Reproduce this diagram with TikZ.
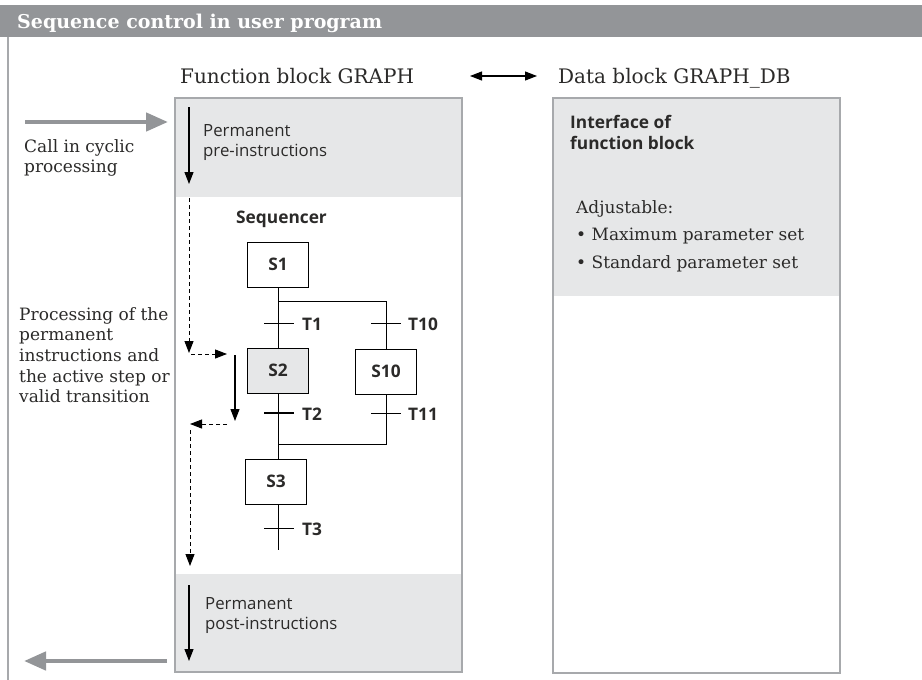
\documentclass[tikz,border=0pt]{standalone}
\usepackage{fontspec}
\setmainfont{DejaVu Serif}
\setsansfont{Open Sans}
\usetikzlibrary{arrows.meta}
\definecolor{titlegray}{HTML}{939598}
\definecolor{fillgray}{HTML}{E6E7E8}
\definecolor{framegray}{HTML}{A7A9AC}
\definecolor{txt}{HTML}{2B2A29}
\tikzset{
  serif/.style={font=\fontsize{17}{20.7}\selectfont, text=txt, inner sep=0pt},
  head/.style={font=\fontsize{20}{24}\selectfont, text=txt, inner sep=0pt},
  sans/.style={font=\sffamily\fontsize{16.8}{20.5}\selectfont, text=txt, inner sep=0pt},
  sansbold/.style={font=\sffamily\bfseries\fontsize{17.3}{21.5}\selectfont, text=txt, inner sep=0pt},
  stepbox/.style={draw=black, line width=1pt, minimum width=61pt, minimum height=45pt, inner sep=0pt, font=\sffamily\bfseries\fontsize{17.3}{20}\selectfont, text=txt},
  trans/.style={line width=1pt},
  flow/.style={line width=1.1pt, -{Triangle[length=12pt,width=9pt]}},
  dflow/.style={line width=1pt, dash pattern=on 4pt off 3pt, -{Triangle[length=12pt,width=9pt]}},
  bigarrow/.style={draw=titlegray, line width=4.5pt, -{Triangle[length=22pt,width=18pt]}},
  tlabel/.style={anchor=west, font=\sffamily\bfseries\fontsize{17.3}{20}\selectfont, text=txt, inner sep=0pt}
}
\begin{document}
\begin{tikzpicture}[x=1pt,y=-1pt]
\useasboundingbox (0,0) rectangle (922,680);
\fill[white] (0,0) rectangle (922,680);
% title bar
\fill[titlegray] (0,5) rectangle (922,37);
\node[anchor=base west, inner sep=0pt, text=white, font=\bfseries\fontsize{19}{22}\selectfont] (title) at (17,28) {Sequence control in user program};
\draw[framegray, line width=1.3pt] (8,37) -- (8,680);
% function block
\fill[fillgray] (175,98) rectangle (462,197);
\fill[fillgray] (175,574) rectangle (462,672);
\draw[framegray, line width=1.3pt] (175,98) rectangle (462,672);
\node[head, anchor=base west] (fbt) at (180,83) {Function block GRAPH};
% data block
\fill[fillgray] (553,98) rectangle (840,296);
\draw[framegray, line width=1.3pt] (553,98) rectangle (840,673);
\node[head, anchor=base west] (dbt) at (558,83) {Data block GRAPH\_DB};
\coordinate (da) at (470,76);
\coordinate (db) at (537,76);
\draw[line width=1.1pt, {Triangle[length=12pt,width=9pt]}-{Triangle[length=12pt,width=9pt]}] (da) -- (db);
\node[sansbold, anchor=north west, align=left] (iface) at (570,115) {Interface of\\function block};
\node[serif, anchor=north west, align=left] (adj) at (576,200) {Adjustable:\\[7pt]\textbullet\ Maximum parameter set\\[7pt]\textbullet\ Standard parameter set};
% call in
\coordinate (cin1) at (25,122);
\coordinate (cin2) at (168,122);
\draw[bigarrow] (cin1) -- (cin2);
\node[serif, anchor=north west, align=left] (call) at (24,139) {Call in cyclic\\processing};
% pre-instructions
\coordinate (pa1) at (189,107);
\coordinate (pa2) at (189,184);
\draw[flow] (pa1) -- (pa2);
\node[sans, anchor=north west, align=left] (pre) at (203,124) {Permanent\\pre-instructions};
% processing text
\node[serif, anchor=north west, align=left] (proc) at (19,307) {Processing of the\\permanent\\instructions and\\the active step or\\valid transition};
% sequencer
\node[sansbold, anchor=base west] (seq) at (236,223) {Sequencer};
\node[stepbox] (S1) at (278,264.5) {S1};
\node[stepbox, fill=fillgray] (S2) at (278,370.5) {S2};
\node[stepbox] (S10) at (386,371.5) {S10};
\node[stepbox] (S3) at (276,481.5) {S3};
\coordinate (b1) at (278,301);
\coordinate (j1) at (278,444);
\coordinate (endl) at (278,550);
\draw[line width=1pt] (S1.south) -- (S2.north);
\draw[line width=1pt] (b1) -| (S10.north);
\draw[line width=1pt] (S2.south) -- (S3.north -| S2.south);
\draw[line width=1pt] (S10.south) |- (j1);
\draw[line width=1pt] (S3.south -| j1) -- (endl);
% transitions
\draw[trans] (264,323) -- (294,323);
\node[tlabel] (T1) at (302,324) {T1};
\draw[trans] (371,323) -- (401,323);
\node[tlabel] (T10) at (408,324) {T10};
\draw[line width=2.2pt] (264,413) -- (294,413);
\node[tlabel] (T2) at (302,414) {T2};
\draw[trans] (371,413) -- (401,413);
\node[tlabel] (T11) at (408,414) {T11};
\draw[trans] (264,528) -- (294,528);
\node[tlabel] (T3) at (302,529) {T3};
% processing flow
\coordinate (d1) at (189,198);
\coordinate (d2) at (189,353);
\coordinate (d3) at (191,354);
\coordinate (d4) at (227,354);
\draw[dflow] (d1) -- (d2);
\draw[dflow] (d3) -- (d4);
\coordinate (s1) at (235,355);
\coordinate (s2) at (235,421);
\draw[flow] (s1) -- (s2);
\coordinate (e1) at (227,424);
\coordinate (e2) at (190,424);
\draw[dflow] (e1) -- (e2);
\coordinate (f1) at (190,430);
\coordinate (f2) at (190,566);
\draw[dflow] (f1) -- (f2);
% post-instructions
\coordinate (qa1) at (189,585);
\coordinate (qa2) at (189,661);
\draw[flow] (qa1) -- (qa2);
\node[sans, anchor=north west, align=left] (post) at (205,597) {Permanent\\post-instructions};
\coordinate (cout1) at (167,661);
\coordinate (cout2) at (24,661);
\draw[bigarrow] (cout1) -- (cout2);
\end{tikzpicture}
\end{document}
